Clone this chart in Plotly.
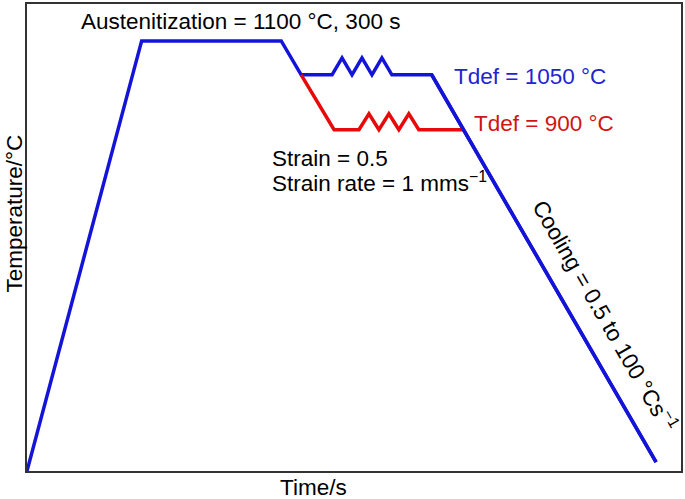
import plotly.graph_objects as go

# Schematic thermal cycle (arbitrary time / temperature units)
blue_time = [0, 115, 255, 275, 306, 316, 326, 336, 346, 356, 366, 406, 631]
blue_temp = [0, 431, 431, 397, 397, 414, 397, 414, 397, 414, 397, 397, 9]

red_time = [275, 308, 333, 343, 353, 363, 373, 383, 393, 438]
red_temp = [397, 342, 342, 358, 342, 358, 342, 358, 342, 342]

FONT = "Liberation Sans, Arial, Helvetica, sans-serif"

fig = go.Figure()
fig.add_trace(go.Scatter(x=blue_time, y=blue_temp, mode="lines",
                         line=dict(color="#1414d8", width=3.5), showlegend=False,
                         hoverinfo="skip"))
fig.add_trace(go.Scatter(x=red_time, y=red_temp, mode="lines",
                         line=dict(color="#e60a0a", width=3.5), showlegend=False,
                         hoverinfo="skip"))
# redraw blue descent on top where red joins
fig.add_trace(go.Scatter(x=blue_time[-2:], y=blue_temp[-2:], mode="lines",
                         line=dict(color="#1414d8", width=3.5), showlegend=False,
                         hoverinfo="skip"))

ann = [
    dict(x=214, y=450, text="Austenitization = 1100 °C, 300 s", font=dict(color="black")),
    dict(x=505, y=395, text="Tdef = 1050 °C", font=dict(color="#2323d0")),
    dict(x=519, y=348, text="Tdef = 900 °C", font=dict(color="#d01515")),
    dict(x=244, y=313, text="Strain = 0.5", xanchor="left", font=dict(color="black")),
    dict(x=244, y=290, text="Strain rate = 1 mms<sup>−1</sup>", xanchor="left", font=dict(color="black")),
    dict(x=580, y=156, text="Cooling = 0.5 to 100 °Cs<sup>−1</sup>", textangle=60, font=dict(color="black")),
    dict(x=287, y=0, yshift=-16, text="Time/s", font=dict(color="black")),
    dict(x=-0.0183, xref="paper", y=258, text="Temperature/°C", textangle=-90, font=dict(color="black")),
]
for a in ann:
    a.setdefault("xanchor", "center")
    a["yanchor"] = "middle"
    a["showarrow"] = False
    a["font"]["size"] = 22.5
    a["font"]["family"] = FONT
    fig.add_annotation(**a)

fig.update_xaxes(range=[0, 656], showline=True, mirror=True, linecolor="#333333",
                 linewidth=2, showgrid=False, zeroline=False, showticklabels=False, ticks="")
fig.update_yaxes(range=[0, 468], showline=True, mirror=True, linecolor="#333333",
                 linewidth=2, showgrid=False, zeroline=False, showticklabels=False, ticks="")
fig.update_layout(width=685, height=499, margin=dict(l=27, r=2, t=3, b=28),
                  plot_bgcolor="white", paper_bgcolor="white",
                  font=dict(family=FONT, size=22.5))
fig.write_html("out.html", config={"displayModeBar": False},
               post_script="document.body.style.margin='0';")
